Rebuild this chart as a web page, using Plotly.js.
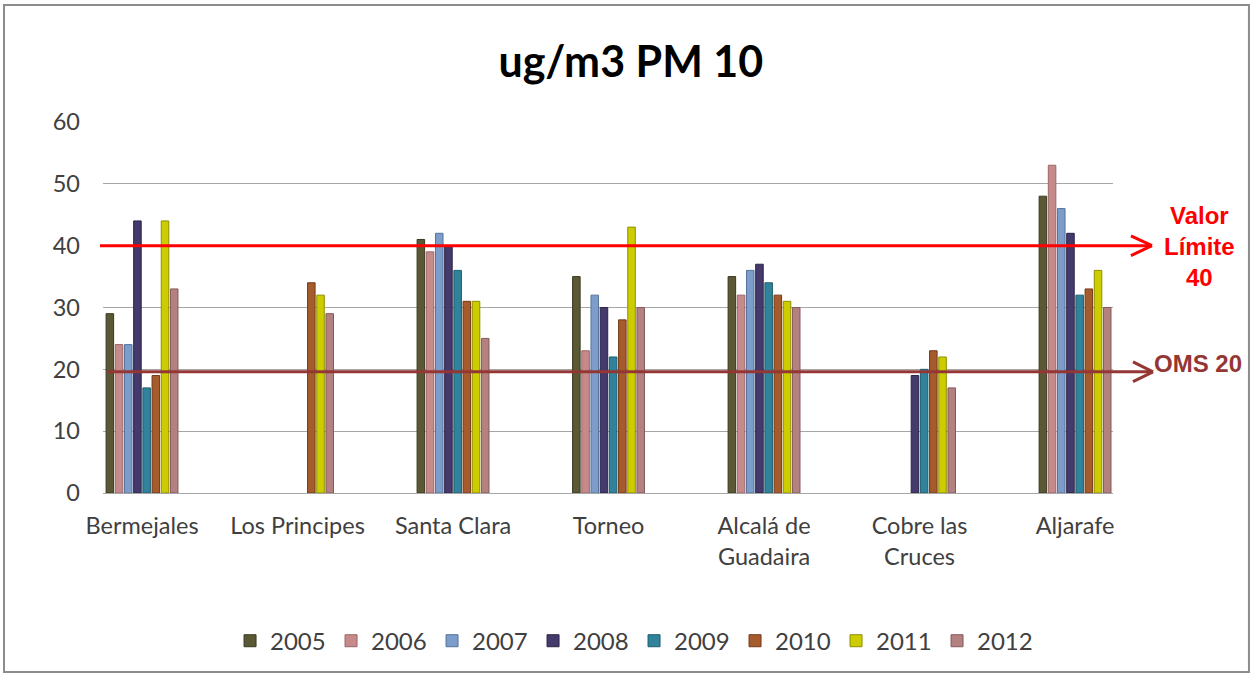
<!DOCTYPE html>
<html>
<head>
<meta charset="utf-8">
<script src="https://cdn.plot.ly/plotly-3.0.1.min.js"></script>
<style>html,body{margin:0;padding:0;background:#fff;}#chart{width:1259px;height:677px;}</style>
</head>
<body>
<div id="chart"></div>
<script>
const stations = ["Bermejales", "Los Principes", "Santa Clara", "Torneo", "Alcalá de Guadaira", "Cobre las Cruces", "Aljarafe"];
const stationLabels = ["Bermejales", "Los Principes", "Santa Clara", "Torneo", "Alcalá de<br>Guadaira", "Cobre las<br>Cruces", "Aljarafe"];
const years = ["2005", "2006", "2007", "2008", "2009", "2010", "2011", "2012"];

const y2005 = [29, null, 41, 35, 35, null, 48];
const y2006 = [24, null, 39, 23, 32, null, 53];
const y2007 = [24, null, 42, 32, 36, null, 46];
const y2008 = [44, null, 40, 30, 37, 19, 42];
const y2009 = [17, null, 36, 22, 34, 20, 32];
const y2010 = [19, 34, 31, 28, 32, 23, 33];
const y2011 = [44, 32, 31, 43, 31, 22, 36];
const y2012 = [33, 29, 25, 30, 30, 17, 30];

const seriesValues = [y2005, y2006, y2007, y2008, y2009, y2010, y2011, y2012];
const seriesColors = ["#5b5935", "#c78a8b", "#7c9dc9", "#453a6c", "#30839a", "#a55b2b", "#cccc00", "#b3817f"];
const seriesEdges  = ["#3a3920", "#9c6466", "#55739c", "#2b2347", "#1f5d6e", "#74391a", "#8f8f00", "#86595a"];

const limitValor = 40;
const limitOMS = 19.6;

const traces = years.map((yr, i) => ({
  type: "bar",
  name: yr,
  x: stations,
  y: seriesValues[i],
  marker: {color: seriesColors[i], line: {color: seriesEdges[i], width: 1}},
  hoverinfo: "x+y+name"
}));

const font = "Lato, 'Open Sans', sans-serif";

const layout = {
  width: 1259, height: 677,
  margin: {l: 103, r: 146, t: 122, b: 184},
  paper_bgcolor: "#ffffff",
  plot_bgcolor: "#ffffff",
  barmode: "group",
  bargap: 0.527,
  bargroupgap: 0.18,
  showlegend: true,
  title: {
    text: "ug/m3 PM 10",
    x: 0.501, xref: "container", xanchor: "center",
    y: 0.908, yref: "container", yanchor: "middle",
    font: {family: font, size: 43, color: "#000000", weight: 700}
  },
  xaxis: {
    type: "category",
    range: [-0.251, 6.244],
    tickvals: stations,
    ticktext: stationLabels,
    showgrid: false,
    zeroline: false,
    showline: true,
    linecolor: "#a6a6a6",
    linewidth: 1,
    ticks: "",
    ticklabelstandoff: 12,
    tickfont: {family: font, size: 23.5, color: "#404040"},
    fixedrange: true
  },
  yaxis: {
    range: [0, 60],
    tickvals: [0, 10, 20, 30, 40, 50, 60],
    showgrid: true,
    gridcolor: "#a6a6a6",
    gridwidth: 1,
    zeroline: false,
    showline: false,
    ticks: "",
    ticklabelstandoff: 22,
    tickfont: {family: font, size: 23.5, color: "#404040"},
    fixedrange: true
  },
  legend: {
    orientation: "h",
    xref: "container", yref: "container",
    x: 0.5036, xanchor: "center",
    y: 0.053, yanchor: "middle",
    bgcolor: "rgba(0,0,0,0)",
    font: {family: font, size: 24, color: "#404040"},
    entrywidth: 56,
    entrywidthmode: "pixels",
    itemwidth: 30,
    traceorder: "normal"
  },
  shapes: [
    {type: "rect", xref: "paper", yref: "paper", x0: -0.098, x1: 1.1346, y0: -0.4825, y1: 1.3154,
     line: {color: "#8c8c8c", width: 2}, layer: "below"},
    {type: "line", xref: "paper", yref: "y", x0: -0.003, x1: 1.0386, y0: limitValor, y1: limitValor, line: {color: "#ff0000", width: 3}},
    {type: "line", xref: "paper", yref: "y", x0: 1.0178, x1: 1.0386, y0: limitValor + 1.6, y1: limitValor, line: {color: "#ff0000", width: 3}},
    {type: "line", xref: "paper", yref: "y", x0: 1.0178, x1: 1.0386, y0: limitValor - 1.6, y1: limitValor, line: {color: "#ff0000", width: 3}},
    {type: "line", xref: "paper", yref: "y", x0: 0.004, x1: 1.0396, y0: limitOMS, y1: limitOMS, line: {color: "#943634", width: 3}},
    {type: "line", xref: "paper", yref: "y", x0: 1.0198, x1: 1.0396, y0: limitOMS + 1.6, y1: limitOMS, line: {color: "#943634", width: 3}},
    {type: "line", xref: "paper", yref: "y", x0: 1.0198, x1: 1.0396, y0: limitOMS - 1.6, y1: limitOMS, line: {color: "#943634", width: 3}}
  ],
  annotations: [
    {xref: "paper", yref: "paper", x: (1199 - 103) / 1010, y: (493 - 246) / 371, xanchor: "center", yanchor: "middle",
     text: "Valor<br>Límite<br>" + limitValor, showarrow: false, align: "center",
     font: {family: "'Liberation Sans', Arial, sans-serif", size: 24, color: "#ff0000", weight: 700}},
    {xref: "paper", yref: "paper", x: (1198 - 103) / 1010, y: (493 - 363) / 371, xanchor: "center", yanchor: "middle",
     text: "OMS 20", showarrow: false,
     font: {family: "'Liberation Sans', Arial, sans-serif", size: 24, color: "#943634", weight: 700}}
  ]
};

Plotly.newPlot("chart", traces, layout, {displayModeBar: false, staticPlot: true});
</script>
</body>
</html>
